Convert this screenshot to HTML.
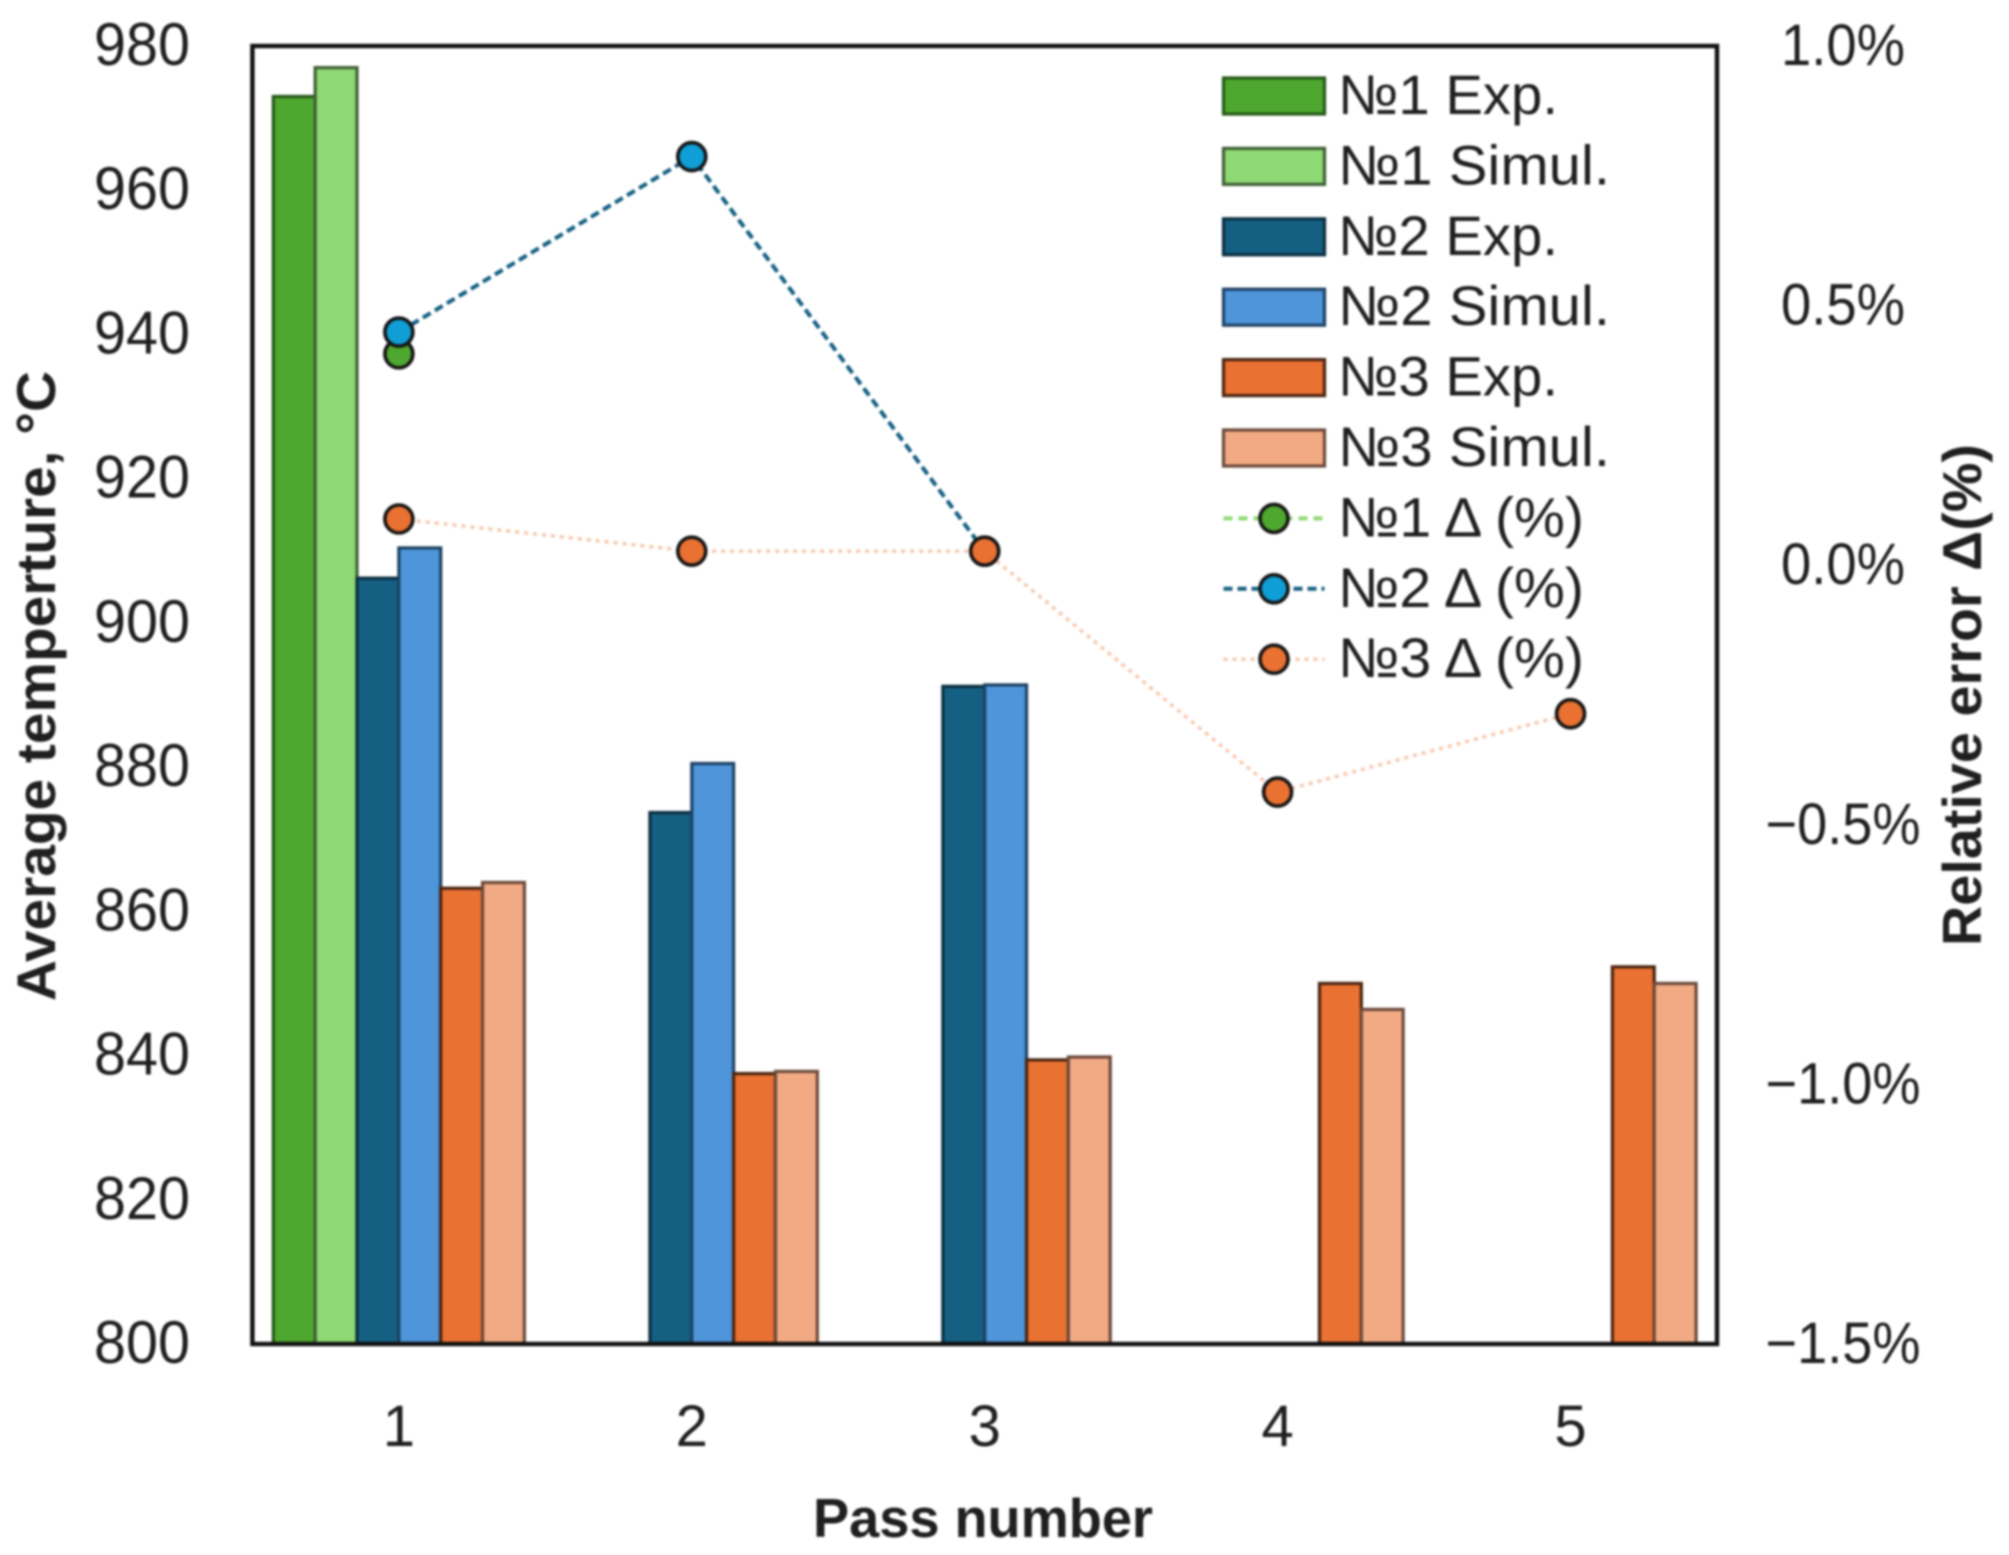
<!DOCTYPE html>
<html lang="en">
<head>
<meta charset="utf-8">
<title>Average temperature and relative error by pass number</title>
<style>
html,body{margin:0;padding:0;background:#fff;width:2009px;height:1555px;overflow:hidden}
svg{display:block;filter:blur(1.1px)}
text{font-family:"Liberation Sans","DejaVu Sans",sans-serif;fill:#1f1f1f}
</style>
</head>
<body>
<svg id="chart" xmlns="http://www.w3.org/2000/svg" width="2009" height="1555" viewBox="0 0 2009 1555">
<rect x="0" y="0" width="2009" height="1555" fill="#fff"/>
<text x="983" y="1537" text-anchor="middle" font-size="55" font-weight="700" textLength="340" lengthAdjust="spacingAndGlyphs">Pass number</text>
<text transform="translate(55,686) rotate(-90)" text-anchor="middle" font-size="55" font-weight="700" textLength="630" lengthAdjust="spacingAndGlyphs">Average temperture, °C</text>
<text transform="translate(1981,695) rotate(-90)" text-anchor="middle" font-size="55" font-weight="700" textLength="502" lengthAdjust="spacingAndGlyphs">Relative error Δ(%)</text>
</svg>
<script>
const categories = ['1', '2', '3', '4', '5'];
const leftTicks = [800, 820, 840, 860, 880, 900, 920, 940, 960, 980];
const rightTicks = [-1.5, -1.0, -0.5, 0.0, 0.5, 1.0];
const no1Exp = [973, null, null, null, null];
const no1Sim = [977, null, null, null, null];
const no2Exp = [906.2, 873.7, 891.2, null, null];
const no2Sim = [910.4, 880.5, 891.4, null, null];
const no3Exp = [863.2, 837.5, 839.4, 850, 852.3];
const no3Sim = [864, 837.8, 839.8, 846.4, 850];
const no1Delta = [0.407, null, null, null, null];
const no2Delta = [0.449, 0.787, 0.027, null, null];
const no3Delta = [0.089, 0.027, 0.027, -0.437, -0.286];

const NS = 'http://www.w3.org/2000/svg';
const svg = document.getElementById('chart');
const plot = { left: 252.4, right: 1717, top: 46, bottom: 1344 };
const barSlots = 7;
const yLeft = v => plot.bottom - (v - 800) / (980 - 800) * (plot.bottom - plot.top);
const yRight = v => plot.bottom - (v + 1.5) / (1.0 + 1.5) * (plot.bottom - plot.top);
const catWidth = (plot.right - plot.left) / categories.length;
const xCenter = i => plot.left + catWidth * (i + 0.5);
const barWidth = catWidth / barSlots;

function make(tag, attrs, parent) {
  const el = document.createElementNS(NS, tag);
  for (const k in attrs) el.setAttribute(k, attrs[k]);
  (parent || svg).appendChild(el);
  return el;
}

const barSeries = [
  { key: 'no1-exp', label: '№1 Exp.', values: no1Exp, fill: '#4EA72E', stroke: '#27591A', w: 220 },
  { key: 'no1-sim', label: '№1 Simul.', values: no1Sim, fill: '#8ED973', stroke: '#3F5F35', w: 272 },
  { key: 'no2-exp', label: '№2 Exp.', values: no2Exp, fill: '#156082', stroke: '#0B2F40', w: 220 },
  { key: 'no2-sim', label: '№2 Simul.', values: no2Sim, fill: '#4E95D9', stroke: '#1E4264', w: 272 },
  { key: 'no3-exp', label: '№3 Exp.', values: no3Exp, fill: '#E97132', stroke: '#4A2410', w: 220 },
  { key: 'no3-sim', label: '№3 Simul.', values: no3Sim, fill: '#F2AA84', stroke: '#6B4A3A', w: 272 }
];
const lineSeries = [
  { key: 'no1-delta', label: '№1 Δ (%)', values: no1Delta, fill: '#4EA72E', line: '#8ED973', dash: '9 6', sw: 4 },
  { key: 'no2-delta', label: '№2 Δ (%)', values: no2Delta, fill: '#0F9ED5', line: '#156082', dash: '9 5', sw: 4 },
  { key: 'no3-delta', label: '№3 Δ (%)', values: no3Delta, fill: '#E97132', line: '#F7C9AE', dash: '4 5', sw: 3.5 }
];

// bars
barSeries.forEach((s, si) => {
  const g = make('g', {});
  
  
  s.values.forEach((v, i) => {
    if (v === null) return;
    const y = yLeft(v);
    const slots = barSlots - 1;
    const x = xCenter(i) - slots / 2 * barWidth + si * barWidth;
    const r = make('rect', { x: x, y: y, width: barWidth, height: plot.bottom - y, fill: s.fill, stroke: s.stroke, 'stroke-width': 3.2 }, g);
    
    
  });
});

// frame
const frame = make('rect', { x: plot.left, y: plot.top, width: plot.right - plot.left, height: plot.bottom - plot.top, fill: 'none', stroke: '#111', 'stroke-width': 4.4 });



// delta lines and markers
lineSeries.forEach(s => {
  const g = make('g', {});
  
  
  const pts = [];
  s.values.forEach((v, i) => { if (v !== null) pts.push([xCenter(i), yRight(v), i]); });
  if (pts.length > 1) {
    const l = make('polyline', { points: pts.map(p => p[0] + ',' + p[1]).join(' '), fill: 'none', stroke: s.line, 'stroke-width': s.sw, 'stroke-dasharray': s.dash }, g);
    
    
  }
  pts.forEach(p => {
    const c = make('circle', { cx: p[0], cy: p[1], r: 14, fill: s.fill, stroke: '#151515', 'stroke-width': 3.6 }, g);
    
    
  });
});

// left ticks
leftTicks.forEach(v => {
  const label = String(v);
  const t = make('text', { x: 190, y: yLeft(v) + 19, 'text-anchor': 'end', 'font-size': 60, textLength: label.length * 32, lengthAdjust: 'spacingAndGlyphs' });
  t.textContent = label;
  
  
});

// right ticks
rightTicks.forEach(v => {
  const label = (v < 0 ? '\u2212' : '') + Math.abs(v).toFixed(1) + '%';
  const t = make('text', { x: 1843, y: yRight(v) + 19, 'text-anchor': 'middle', 'font-size': 58, textLength: label.length * 31, lengthAdjust: 'spacingAndGlyphs' });
  t.textContent = label;
  
  
});

// category labels
categories.forEach((c, i) => {
  const t = make('text', { x: xCenter(i), y: 1446, 'text-anchor': 'middle', 'font-size': 58 });
  t.textContent = c;
  
  
});

// legend
const legendSwatchX = 1223.5;
const legendSwatchW = 101;
const legendTextX = 1338;
const legendTop = 96;
const legendStep = 70.4;
const legend = make('g', {});


barSeries.forEach((s, i) => {
  const cy = legendTop + i * legendStep;
  const g = make('g', {}, legend);
  
  
  const r = make('rect', { x: legendSwatchX, y: cy - 18, width: legendSwatchW, height: 36, fill: s.fill, stroke: s.stroke, 'stroke-width': 3.2 }, g);
  
  
  const t = make('text', { x: legendTextX, y: cy + 18, 'font-size': 56, textLength: s.w, lengthAdjust: 'spacingAndGlyphs' }, g);
  t.textContent = s.label;
  
  
});
lineSeries.forEach((s, i) => {
  const cy = legendTop + (i + barSeries.length) * legendStep;
  const g = make('g', {}, legend);
  
  
  const l = make('line', { x1: legendSwatchX, x2: legendSwatchX + legendSwatchW, y1: cy, y2: cy, stroke: s.line, 'stroke-width': s.sw, 'stroke-dasharray': s.dash }, g);
  
  
  const c = make('circle', { cx: legendSwatchX + legendSwatchW / 2, cy: cy, r: 14, fill: s.fill, stroke: '#151515', 'stroke-width': 3.6 }, g);
  
  
  const t = make('text', { x: legendTextX, y: cy + 18, 'font-size': 56, textLength: 246, lengthAdjust: 'spacingAndGlyphs' }, g);
  t.textContent = s.label;
  
  
});
</script>
</body>
</html>
